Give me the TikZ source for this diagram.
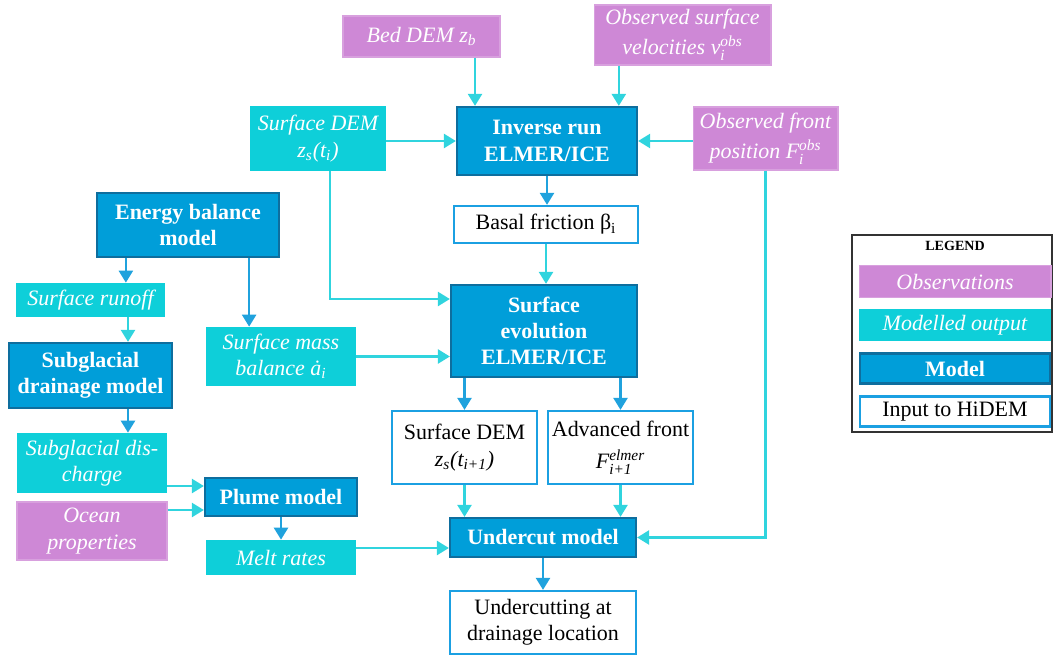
\documentclass[tikz,border=0pt]{standalone}
\usepackage{fontspec}
\usepackage{amsmath}
\setmainfont{Liberation Serif}
\usetikzlibrary{arrows.meta,calc}

\definecolor{obscol}{RGB}{206,136,214}
\definecolor{outcol}{RGB}{14,207,217}
\definecolor{modcol}{RGB}{0,158,217}
\definecolor{modedge}{RGB}{14,110,158}
\definecolor{inpedge}{RGB}{27,160,226}
\definecolor{cyanline}{RGB}{48,212,222}
\definecolor{blueline}{RGB}{32,162,221}

\tikzset{
	wh/.style 2 args={minimum width=#1cm, minimum height=#2cm},
	box/.style={rectangle, align=center, inner sep=1pt},
	obsbox/.style={box, fill=obscol, draw=obscol!80!white, line width=0.6pt, text=white, font=\fontsize{12.5}{15}\selectfont\itshape},
	outbox/.style={box, fill=outcol, text=white, font=\fontsize{12.5}{15}\selectfont\itshape},
	modbox/.style={box, fill=modcol, draw=modedge, line width=1.3pt, text=white, font=\fontsize{12.5}{15}\selectfont\bfseries},
	inpbox/.style={box, fill=white, draw=inpedge, line width=1.3pt, text=black, font=\fontsize{12.5}{15}\selectfont},
	cyanarr/.style={draw=cyanline, line width=1.4pt, ->},
	bluearr/.style={draw=blueline, line width=1.4pt, ->}
}

\begin{document}
\begin{tikzpicture}
	[
	x=0.02cm, y=-0.02cm, >={Triangle[width=0.28cm,length=0.24cm]}
	]
	\useasboundingbox (0,0) rectangle (1053,658);
	
	%Observations
	\node[obsbox, wh={3.14}{0.82}] (bed) at (421.5,36.5) {Bed DEM z$_{\text{b}}$};
	\node[obsbox, wh={3.54}{1.2}] (vel) at (682.5,35) {Observed surface\\[2pt]velocities v$^{\text{obs}}_{\text{i}}$};
	\node[obsbox, wh={2.9}{1.26}] (front) at (765.5,138.5) {Observed front\\[2pt]position F$^{\text{obs}}_{\text{i}}$};
	\node[obsbox, wh={3.0}{1.16}] (ocean) at (92,531) {Ocean\\properties};
	
	%Modelled output
	\node[outbox, wh={2.72}{1.3}] (sdem) at (318,138.5) {Surface DEM\\z$_{\text{s}}$(t$_{\text{i}}$)};
	\node[outbox, wh={2.98}{0.68}] (runoff) at (90.5,300) {Surface runoff};
	\node[outbox, wh={3.0}{1.18}] (smb) at (281,356.5) {Surface mass\\balance \.a$_{\text{i}}$};
	\node[outbox, wh={3.0}{1.2}] (disch) at (92,463) {Subglacial dis-\\charge};
	\node[outbox, wh={3.0}{0.7}] (melt) at (281,557.5) {Melt rates};
	
	%Models
	\node[modbox, wh={3.6}{1.36}] (inv) at (547,141) {Inverse run\\ELMER/ICE};
	\node[modbox, wh={3.64}{1.28}] (ebm) at (188,225) {Energy balance\\model};
	\node[modbox, wh={3.72}{1.84}] (evo) at (544,331) {Surface\\evolution\\ELMER/ICE};
	\node[modbox, wh={3.26}{1.3}] (drain) at (90.5,375.5) {Subglacial\\drainage model};
	\node[modbox, wh={3.04}{0.76}] (plume) at (281,497) {Plume model};
	\node[modbox, wh={3.72}{0.78}] (under) at (543,537.5) {Undercut model};
	
	%Input to HiDEM
	\node[inpbox, wh={3.68}{0.74}] (fric) at (546,224.5) {Basal friction β$_{\text{i}}$};
	\node[inpbox, wh={2.9}{1.46}] (sdem2) at (464.5,447.5) {Surface DEM\\\textit{z$_{\text{s}}$(t$_{\text{i+1}}$)}};
	\node[inpbox, wh={2.9}{1.46}] (adv) at (620.5,447.5) {Advanced front\\[3pt]\textit{F$^{\text{elmer}}_{\text{i+1}}$}};
	\node[inpbox, wh={3.72}{1.26}] (result) at (543,622.5) {Undercutting at\\drainage location};
	
	%Anschlusspunkte
	\coordinate (inv-a) at ($(inv.north west)!0.105!(inv.north east)$);
	\coordinate (inv-b) at ($(inv.north west)!0.894!(inv.north east)$);
	\coordinate (sdem-out) at ([xshift=0.24cm]sdem.south);
	\coordinate (evo-a) at ([yshift=0.64cm]evo.west);
	\coordinate (ebm-a) at ([xshift=0.6cm]ebm.south west);
	\coordinate (ebm-b) at ([xshift=-0.62cm]ebm.south east);
	\coordinate (ro-out) at ([xshift=0.75cm]runoff.south);
	\coordinate (dr-out) at ([xshift=0.75cm]drain.south);
	\coordinate (pl-a) at ([yshift=0.22cm]plume.west);
	\coordinate (pl-b) at ([yshift=-0.26cm]plume.west);
	\coordinate (un-a) at ([yshift=-0.21cm]under.west);
	
	%Pfeile zum Inverse run
	\draw[cyanarr] (bed.south -| inv-a) -- (inv-a);
	\draw[cyanarr] (vel.south -| inv-b) -- (inv-b);
	\draw[cyanarr] (sdem.east |- inv.west) -- (inv.west);
	\draw[cyanarr] (front.west |- inv.east) -- (inv.east);
	\draw[bluearr] (inv.south) -- (inv.south |- fric.north);
	
	%Pfeile zur Surface evolution
	\draw[cyanarr] (fric.south) -- (fric.south |- evo.north);
	\draw[cyanarr] (sdem-out) |- (evo-a);
	\draw[cyanarr] (smb.east) -- (smb.east -| evo.west);
	\draw[bluearr] (sdem2.north |- evo.south) -- (sdem2.north);
	\draw[bluearr] (adv.north |- evo.south) -- (adv.north);
	
	%linke Seite
	\draw[bluearr] (ebm-a) -- (ebm-a |- runoff.north);
	\draw[bluearr] (ebm-b) -- (ebm-b |- smb.north);
	\draw[cyanarr] (ro-out) -- (ro-out |- drain.north);
	\draw[bluearr] (dr-out) -- (dr-out |- disch.north);
	\draw[cyanarr] (disch.east |- pl-a) -- (pl-a);
	\draw[cyanarr] (ocean.east |- pl-b) -- (pl-b);
	\draw[bluearr] (plume.south) -- (melt.north);
	
	%Pfeile zum Undercut model
	\draw[cyanarr] (melt.east |- un-a) -- (un-a);
	\draw[cyanarr] (sdem2.south) -- (sdem2.south |- under.north);
	\draw[cyanarr] (adv.south) -- (adv.south |- under.north);
	\draw[cyanarr] (front.south) |- (under.east);
	\draw[bluearr] (under.south) -- (result.north);
	
	%Legende
	\node[draw=black!80, line width=0.8pt, minimum width=4.0cm, minimum height=3.94cm] (legend) at (952,333.5) {};
	\node[font=\fontsize{8}{9}\selectfont\bfseries] (legtitle) at (955,246) {LEGEND};
	\node[obsbox, wh={3.84}{0.64}] (leg-obs) at (955,281.5) {Observations};
	\node[outbox, wh={3.84}{0.64}] (leg-out) at (955,325) {Modelled output};
	\node[modbox, wh={3.8}{0.6}] (leg-mod) at (955,368.5) {Model};
	\node[inpbox, wh={3.8}{0.6}] (leg-inp) at (955,411.5) {Input to HiDEM};
\end{tikzpicture}
\end{document}
